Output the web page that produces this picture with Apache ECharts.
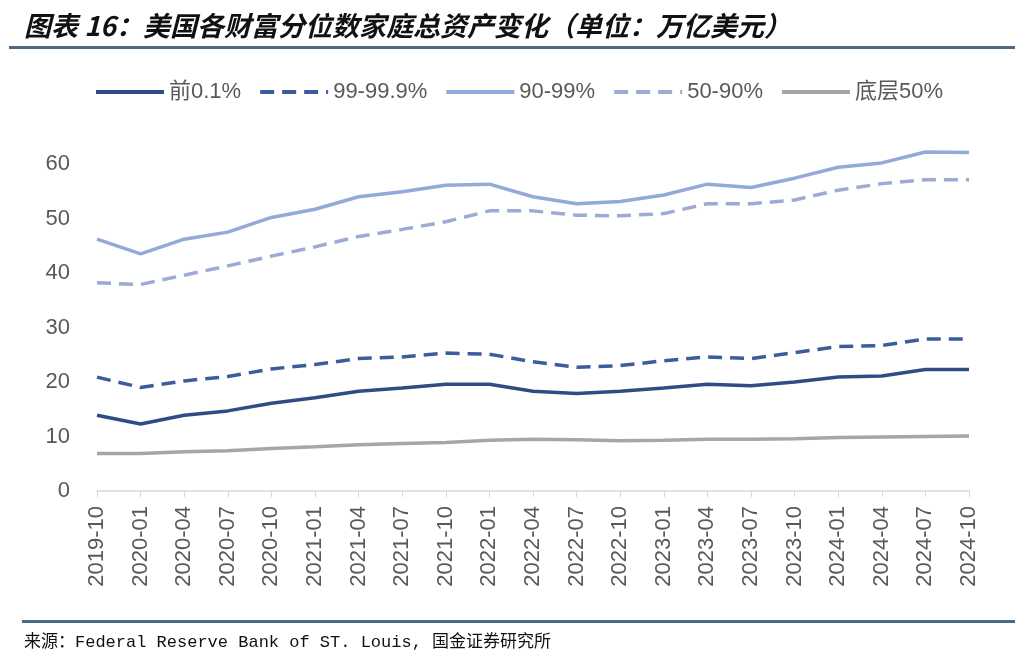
<!DOCTYPE html>
<html>
<head>
<meta charset="utf-8">
<script src="https://cdn.jsdelivr.net/npm/echarts@6/dist/echarts.min.js"></script>
<style>html,body{margin:0;padding:0;background:#fff;}#c{width:1024px;height:665px;}</style>
</head>
<body>
<div id="c"></div>
<script>
const categories = ['2019-10','2020-01','2020-04','2020-07','2020-10','2021-01','2021-04','2021-07','2021-10','2022-01','2022-04','2022-07','2022-10','2023-01','2023-04','2023-07','2023-10','2024-01','2024-04','2024-07','2024-10'];
const seriesNames = ['前0.1%','99-99.9%','90-99%','50-90%','底层50%'];
const top01 = [13.9,12.3,13.9,14.7,16.1,17.1,18.3,18.9,19.6,19.6,18.3,17.9,18.3,18.9,19.6,19.3,20.0,20.9,21.1,22.3,22.3];
const p99to999 = [20.9,19.0,20.2,21.0,22.4,23.2,24.3,24.6,25.3,25.1,23.7,22.7,23.0,23.9,24.6,24.3,25.4,26.5,26.7,27.9,27.9];
const p90to99 = [46.2,43.5,46.2,47.5,50.2,51.7,54.0,54.9,56.1,56.3,54.0,52.7,53.1,54.3,56.3,55.7,57.4,59.4,60.2,62.2,62.1];
const p50to90 = [38.2,37.9,39.6,41.3,43.1,44.8,46.7,48.0,49.4,51.4,51.4,50.6,50.5,50.9,52.7,52.7,53.4,55.2,56.4,57.1,57.1];
const bottom50 = [6.9,6.9,7.2,7.4,7.8,8.1,8.5,8.7,8.9,9.3,9.5,9.4,9.2,9.3,9.5,9.5,9.6,9.8,9.9,10.0,10.1];
const yTicks = [0,10,20,30,40,50,60];

const values = [top01, p99to999, p90to99, p50to90, bottom50];
const colors = ['#2f4d85','#3d5c9c','#93aad8','#9eaad6','#a6a6a6'];
const dashed = [false,true,false,true,false];

const chart = echarts.init(document.getElementById('c'));
const latin = "'Liberation Sans','Noto Sans CJK SC',sans-serif";
chart.setOption({
  animation:false,
  backgroundColor:'#fff',
  graphic:[
    {type:'text', left:24, top:12, style:{text:'图表 16：美国各财富分位数家庭总资产变化（单位：万亿美元）', font:"italic bold 27px 'Noto Sans CJK SC'", fill:'#111'}},
    {type:'rect', shape:{x:9, y:46, width:1006, height:3}, style:{fill:'#4c6a84'}},
    {type:'rect', shape:{x:22, y:620, width:993, height:3}, style:{fill:'#4c6a84'}},
    {type:'text', left:24, top:634, style:{text:'来源：Federal Reserve Bank of ST. Louis, 国金证券研究所', font:"17px 'Liberation Mono','Noto Sans CJK SC',monospace", fill:'#111'}}
  ],
  legend:{
    left:89, top:76, itemWidth:68, itemHeight:24, itemGap:17,
    itemStyle:{opacity:0},
    lineStyle:{width:4},
    textStyle:{fontSize:22, color:'#595959', fontFamily:latin},
    data:seriesNames
  },
  grid:{left:97, right:55, top:164, bottom:174, containLabel:false},
  xAxis:{
    type:'category', data:categories, boundaryGap:false,
    axisLine:{lineStyle:{color:'#d9d9d9', width:1.5}},
    axisTick:{show:true, length:6, lineStyle:{color:'#d9d9d9'}},
    axisLabel:{rotate:90, interval:0, fontSize:22, color:'#595959', margin:15, fontFamily:latin}
  },
  yAxis:{
    type:'value', min:yTicks[0], max:yTicks[yTicks.length-1], interval:10,
    axisLine:{show:false}, axisTick:{show:false}, splitLine:{show:false},
    axisLabel:{fontSize:22, color:'#595959', margin:27, fontFamily:latin}
  },
  series: seriesNames.map((n,i)=>({
    name:n, type:'line', data:values[i], symbol:'none', clip:false,
    itemStyle:{color:colors[i]},
    lineStyle:{color:colors[i], width:3.5, type: dashed[i] ? [14,8] : 'solid'}
  }))
});
</script>
</body>
</html>
